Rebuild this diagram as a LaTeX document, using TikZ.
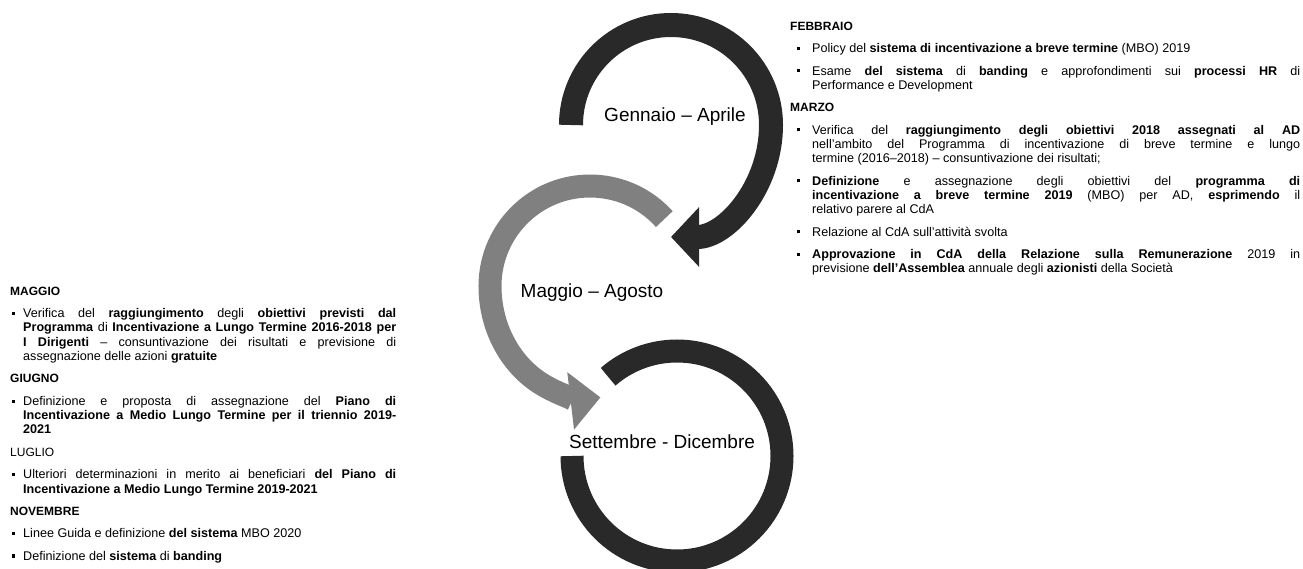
\documentclass[tikz,border=0pt]{standalone}
\usepackage{fontspec}
\setmainfont{Liberation Sans}
\usetikzlibrary{arrows.meta, positioning}

\definecolor{ringdark}{gray}{0.16}
\definecolor{ringgrey}{gray}{0.50}

% paragraph of one bullet, forced breaks only
\newcommand{\itm}[1]{\tolerance=10000\hyphenpenalty=10000\strut#1\strut}

\tikzset{
  ring/.style={line width=24pt},
  period/.style={font=\fontsize{19}{21}\selectfont, inner sep=0pt, anchor=base},
  month/.style={font=\fontsize{12}{14.3}\selectfont\bfseries, inner sep=0pt, anchor=north west},
  sqmark/.style={label={[inner sep=0pt, anchor=north east, xshift=-#1, yshift=-4.2pt]north west:\rule{3.2pt}{3.2pt}}},
  entryR/.style={font=\fontsize{12.6}{14.3}\selectfont, inner sep=0pt, anchor=north west, text width=488pt, align=justify, sqmark=11.8pt},
  entryL/.style={font=\fontsize{12.6}{14.3}\selectfont, inner sep=0pt, anchor=north west, text width=373pt, align=justify, sqmark=7.8pt},
}

\begin{document}
\begin{tikzpicture}[x=1pt, y=-1pt]

    \useasboundingbox (0,0) rectangle (1303,569);

    % The three arrows of the cycle
    \draw[ring, ringdark, -{Triangle[length=28pt,width=58pt]}] (571,125) arc[start angle=180, end angle=360, radius=100] arc[start angle=0, end angle=90, x radius=100, y radius=112];
    \draw[ring, ringgrey, line width=23pt, -{Triangle[length=30pt,width=56pt]}] (664.3,219.1) arc[start angle=-42, end angle=-180, radius=100] arc[start angle=180, end angle=84, x radius=100, y radius=112];
    \draw[ring, ringdark, line width=23pt] (572,456) arc[start angle=180, end angle=-131, radius=105];

    % Period labels
    \node[period] (jan) at (675,122) {Gennaio -- Aprile};
    \node[period] (may) at (592,297) {Maggio -- Agosto};
    \node[period] (sep) at (662,448) {Settembre - Dicembre};

    % Right column
    \node[month] (feb) at (790,20) {\strut FEBBRAIO};
    \node[entryR, below right=7.7pt and 22pt of feb.south west] (feb1) {\itm{Policy del \textbf{sistema di incentivazione a breve termine} (MBO) 2019}};
    \node[entryR, below right=7.7pt and 0pt of feb1.south west] (feb2) {\itm{Esame \textbf{del sistema} di \textbf{banding} e approfondimenti sui \textbf{processi HR} di\linebreak Performance e Development}};
    \node[month, below right=7.7pt and -22pt of feb2.south west] (mar) {\strut MARZO};
    \node[entryR, below right=7.7pt and 22pt of mar.south west] (mar1) {\itm{Verifica del \textbf{raggiungimento degli obiettivi 2018 assegnati al AD}\linebreak nell'ambito del Programma di incentivazione di breve termine e lungo\linebreak termine (2016--2018) -- consuntivazione dei risultati;}};
    \node[entryR, below right=7.7pt and 0pt of mar1.south west] (mar2) {\itm{\textbf{Definizione} e assegnazione degli obiettivi del \textbf{programma di}\linebreak \textbf{incentivazione a breve termine 2019} (MBO) per AD, \textbf{esprimendo} il\linebreak relativo parere al CdA}};
    \node[entryR, below right=7.7pt and 0pt of mar2.south west] (mar3) {\itm{Relazione al CdA sull'attività svolta}};
    \node[entryR, below right=7.7pt and 0pt of mar3.south west] (mar4) {\itm{\textbf{Approvazione in CdA della Relazione sulla Remunerazione} 2019 in\linebreak previsione \textbf{dell'Assemblea} annuale degli \textbf{azionisti} della Società}};

    % Left column
    \node[month] (mag) at (10,285) {\strut MAGGIO};
    \node[entryL, below right=7.7pt and 13pt of mag.south west] (mag1) {\itm{Verifica del \textbf{raggiungimento} degli \textbf{obiettivi previsti dal}\linebreak \textbf{Programma} di \textbf{Incentivazione a Lungo Termine 2016-2018 per}\linebreak \textbf{I Dirigenti} -- consuntivazione dei risultati e previsione di\linebreak assegnazione delle azioni \textbf{gratuite}}};
    \node[month, below right=7.7pt and -13pt of mag1.south west] (giu) {\strut GIUGNO};
    \node[entryL, below right=7.7pt and 13pt of giu.south west] (giu1) {\itm{Definizione e proposta di assegnazione del \textbf{Piano di}\linebreak \textbf{Incentivazione a Medio Lungo Termine per il triennio 2019-}\linebreak \textbf{2021}}};
    \node[month, below right=7.7pt and -13pt of giu1.south west] (lug) {\strut\mdseries LUGLIO};
    \node[entryL, below right=7.7pt and 13pt of lug.south west] (lug1) {\itm{Ulteriori determinazioni in merito ai beneficiari \textbf{del Piano di}\linebreak \textbf{Incentivazione a Medio Lungo Termine 2019-2021}}};
    \node[month, below right=7.7pt and -13pt of lug1.south west] (nov) {\strut NOVEMBRE};
    \node[entryL, below right=7.7pt and 13pt of nov.south west] (nov1) {\itm{Linee Guida e definizione \textbf{del sistema} MBO 2020}};
    \node[entryL, below right=7.7pt and 0pt of nov1.south west] (nov2) {\itm{Definizione del \textbf{sistema} di \textbf{banding}}};

\end{tikzpicture}
\end{document}
